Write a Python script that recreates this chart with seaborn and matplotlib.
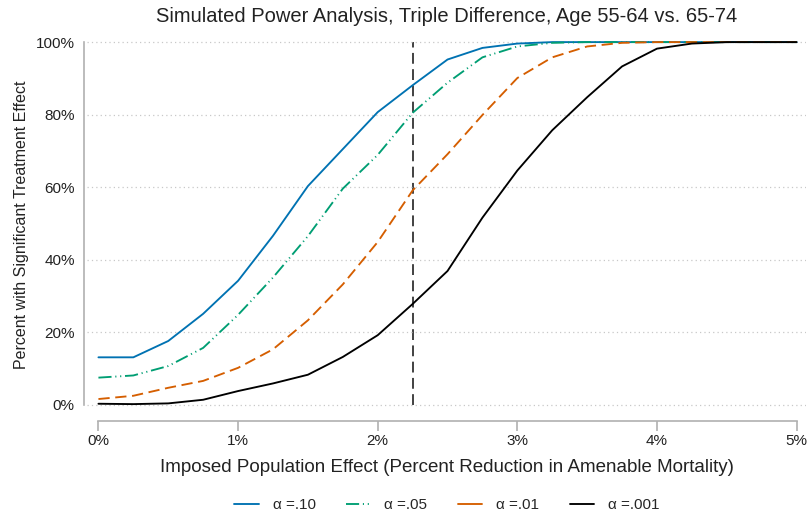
import numpy as np
import pandas as pd
import matplotlib
matplotlib.use("Agg")
import matplotlib.pyplot as plt
import seaborn as sns

effect = [0, 0.25, 0.5, 0.75, 1.0, 1.25, 1.5, 1.75, 2.0, 2.25, 2.5, 2.75,
          3.0, 3.25, 3.5, 3.75, 4.0, 4.25, 4.5, 4.75, 5.0]
power_10 = [13.1, 13.1, 17.6, 25.1, 34.2, 46.6, 60.3, 70.5, 80.7, 88.1, 95.2, 98.4,
            99.6, 100, 100, 100, 100, 100, 100, 100, 100]
power_05 = [7.5, 8.1, 10.7, 15.7, 24.8, 35.1, 46.5, 59.6, 68.9, 80.5, 88.8, 95.8,
            98.8, 99.8, 100, 100, 100, 100, 100, 100, 100]
power_01 = [1.6, 2.5, 4.7, 6.6, 10.2, 15.3, 23.3, 33.2, 44.9, 59.1, 69.1, 79.9,
            90.1, 95.8, 98.8, 99.8, 100, 100, 100, 100, 100]
power_001 = [0.3, 0.2, 0.4, 1.4, 3.8, 5.9, 8.3, 13.2, 19.2, 27.8, 36.9, 51.6,
             64.6, 75.7, 84.8, 93.3, 98.2, 99.6, 100, 100, 100]
labels = ["α =.10", "α =.05", "α =.01", "α =.001"]
colors = ["#0072B2", "#009E73", "#D55E00", "#000000"]
ref_effect = 2.25

df = pd.DataFrame({
    "effect": effect * 4,
    "power": power_10 + power_05 + power_01 + power_001,
    "alpha": sum([[l] * len(effect) for l in labels], []),
})

sns.set_theme(style="white")
plt.rcParams['font.family'] = ['Liberation Sans', 'DejaVu Sans']

fig = plt.figure(figsize=(8.08, 5.2), dpi=100)
ax = fig.add_axes([0.108, 0.211, 0.890, 0.715])

dashes = {labels[0]: "", labels[1]: (7, 2, 0.6, 2, 0.6, 2), labels[2]: (6, 3), labels[3]: ""}
sns.lineplot(data=df, x="effect", y="power", hue="alpha", style="alpha",
             palette=dict(zip(labels, colors)), dashes=dashes, linewidth=1.35,
             ax=ax, legend=True)

ax.vlines(ref_effect, 0, 100, color="#333333", linestyle=(0, (6, 3)), linewidth=1.3, zorder=0)

ax.set_xlim(-0.08, 5.07)
ax.set_ylim(-1.5, 101)
ax.set_xticks([0, 1, 2, 3, 4, 5])
ax.set_xticklabels([f"{i}%" for i in range(6)])
ax.set_yticks([0, 20, 40, 60, 80, 100])
ax.set_yticklabels([f"{i}%" for i in range(0, 101, 20)])
ax.yaxis.grid(True, linestyle=(0, (1, 2.5)), color="#c8c8c8", linewidth=0.9)
ax.xaxis.grid(False)

for s in ["top", "right"]:
    ax.spines[s].set_visible(False)
ax.spines["bottom"].set_bounds(0, 5)
ax.spines["bottom"].set_position(("outward", 8))
ax.spines["left"].set_bounds(0, 100)
ax.spines["left"].set_position(("outward", 2))
for s in ["bottom", "left"]:
    ax.spines[s].set_color("#b0b0b0")
    ax.spines[s].set_linewidth(1.2)

ax.tick_params(axis="x", which="both", bottom=True, length=7, width=1.2,
               color="#b0b0b0", labelsize=11, pad=2, labelcolor="#222222")
ax.tick_params(axis="y", left=False, labelsize=11, pad=1, labelcolor="#222222")

ax.set_xlabel("Imposed Population Effect (Percent Reduction in Amenable Mortality)",
              fontsize=13.5, color="#222222", labelpad=8)
ax.set_ylabel("Percent with Significant Treatment Effect", fontsize=11.5,
              color="#222222", labelpad=5)
ax.set_title("Simulated Power Analysis, Triple Difference, Age 55-64 vs. 65-74",
             fontsize=14.5, color="#222222", pad=12)

handles, lbls = ax.get_legend_handles_labels()
handles[2].set_linestyle("-")
ax.legend(handles, lbls, loc="upper center", bbox_to_anchor=(0.5, -0.2), ncol=4,
          frameon=False, fontsize=11, handlelength=1.6, handletextpad=0.9,
          columnspacing=2.0, title=None)

fig.savefig("out.png", dpi=100, facecolor="white")
